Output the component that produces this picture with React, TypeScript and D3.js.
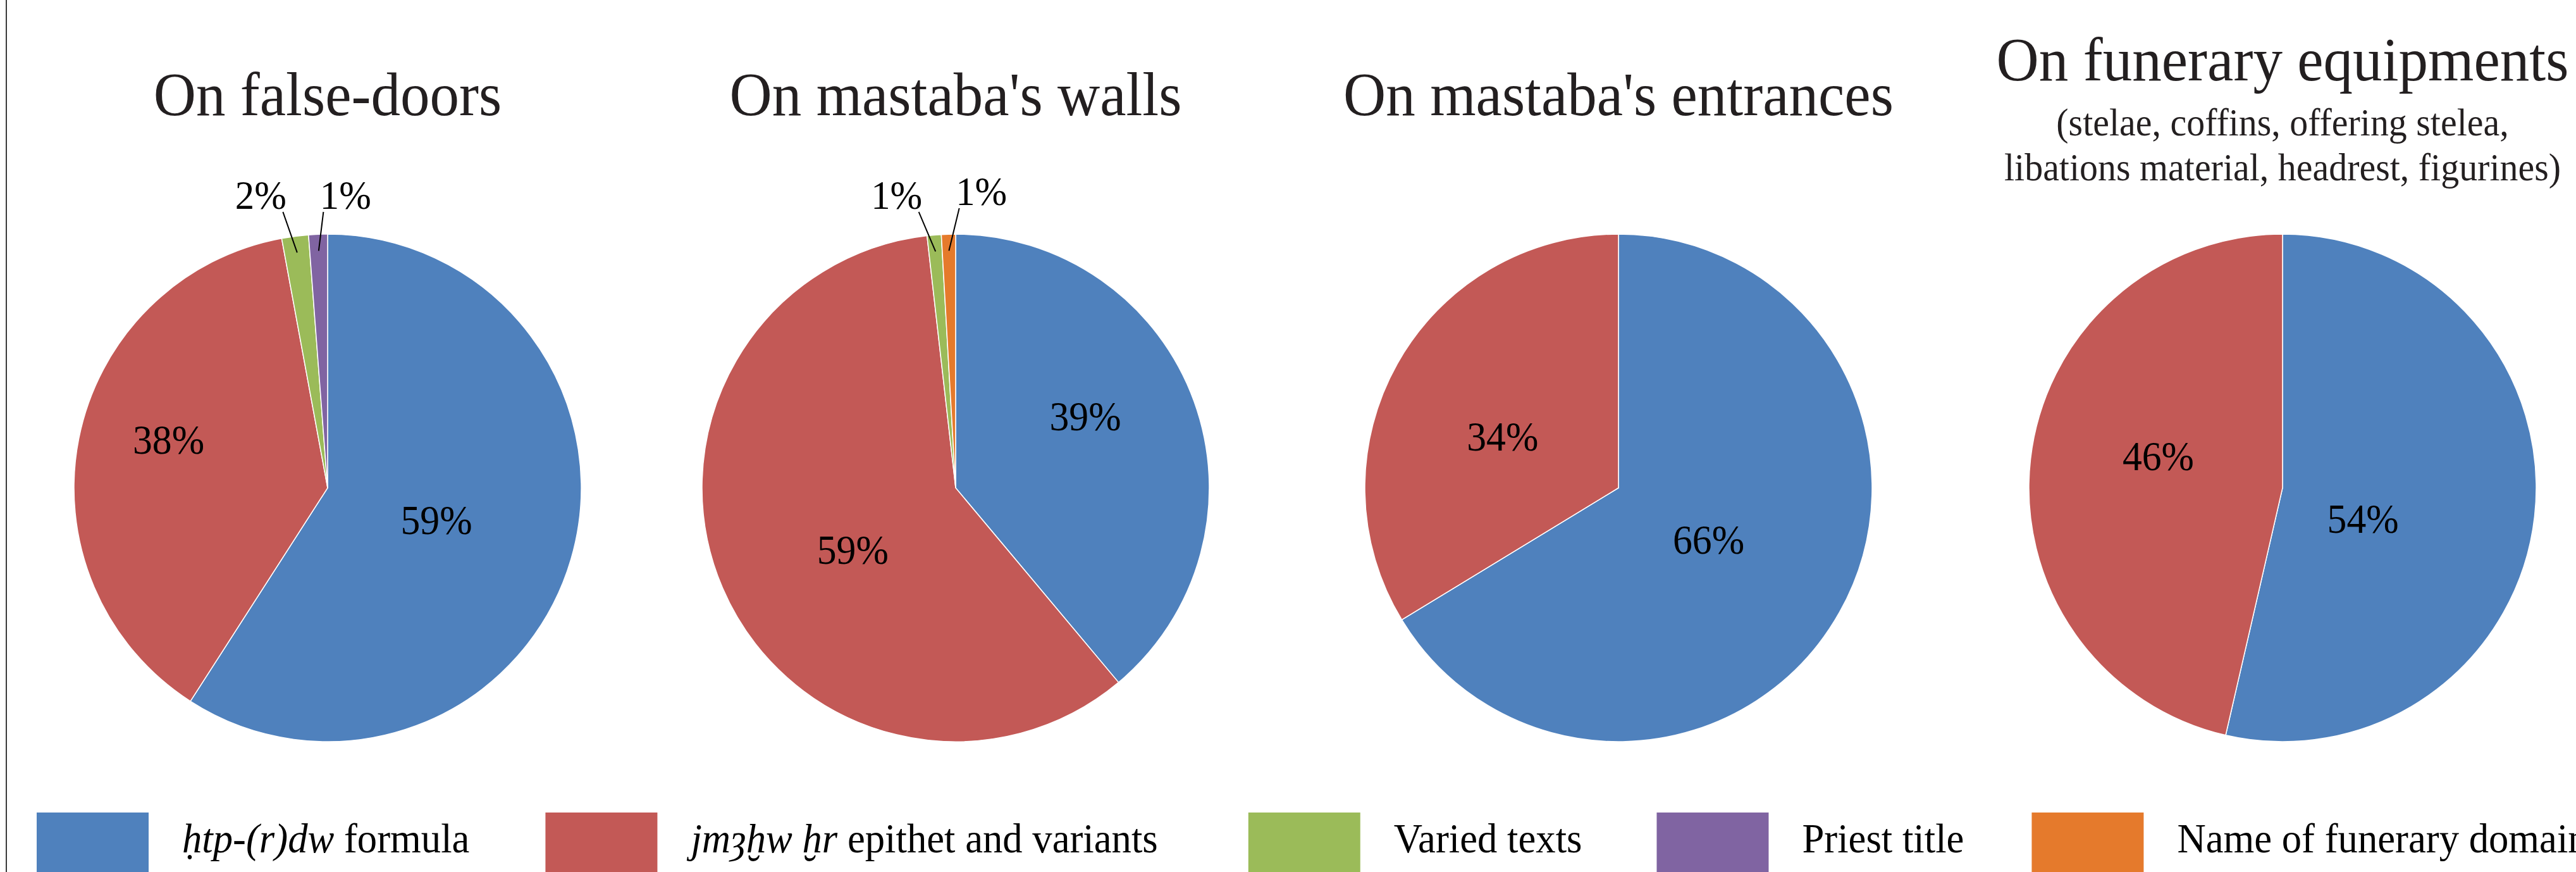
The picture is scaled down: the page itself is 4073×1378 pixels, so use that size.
import React, { useEffect, useRef } from 'react'
import { select, pie, arc } from 'd3'

const W = 4073
const H = 1378

// legend entries: italic transliteration part + roman part
const legendItalic = ['ḥtp-(r)dw', 'jmȝḫw ḫr', '', '', '']
const legendRoman = [' formula', ' epithet and variants', 'Varied texts', 'Priest title', 'Name of funerary domain']

const chartTitles = ['On false-doors', "On mastaba's walls", "On mastaba's entrances", 'On funerary equipments']
const chartSubtitles = [[], [], [], ['(stelae, coffins, offering stelea,', 'libations material, headrest, figurines)']]

// shares per series: htp-(r)dw, jm3hw hr, varied texts, priest title, funerary domain
const falseDoors = [59.1, 38.0, 1.7, 1.2, 0]
const mastabaWalls = [38.9, 59.3, 0.9, 0, 0.9]
const mastabaEntrances = [66.3, 33.7, 0, 0, 0]
const funeraryEquipments = [53.6, 46.4, 0, 0, 0]
const charts = [falseDoors, mastabaWalls, mastabaEntrances, funeraryEquipments]

const colors = ['#4F81BD', '#C35956', '#9BBB59', '#8064A2', '#E57A2C']

// layout
const pieCenters = [518, 1511, 2559, 3609]
const pieY = 771
const radius = 401
// "best fit" label spots for the big slices: [radius fraction, angle shift in deg]
const labelPlacement = [
  [[0.447, 0], [0.655, 5.6]],
  [[0.584, -8.9], [0.474, -7.9]],
  [[0.41, 0.6], [0.5, -5.4]],
  [[0.34, 14.7], [0.506, 7.9]],
]

const FONT = '"Liberation Serif", "Times New Roman", "DejaVu Serif", serif'
const SQUEEZE = 0.95

const addText = (g, x, y, txt, size, anchor = 'middle', fill = '#000') =>
  g.append('text')
    .attr('transform', `translate(${x},${y}) scale(${SQUEEZE},1)`)
    .attr('text-anchor', anchor)
    .attr('font-family', FONT)
    .attr('font-size', size)
    .attr('fill', fill)
    .text(txt)

export default function App() {
  const svgRef = useRef<SVGSVGElement | null>(null)

  useEffect(() => {
    if (!svgRef.current) return
    const svg = select(svgRef.current)
    svg.selectAll('*').remove()

    svg.append('line')
      .attr('x1', 10).attr('x2', 10).attr('y1', 0).attr('y2', H)
      .attr('stroke', '#3a3a3a').attr('stroke-width', 2)

    const pieGen = pie<number>().sort(null).value(d => d)
    const arcGen = arc<any>().innerRadius(0).outerRadius(radius)

    charts.forEach((values, ci) => {
      const cx = pieCenters[ci]
      const g = svg.append('g')
      const subs = chartSubtitles[ci]
      const titleBase = subs.length ? 127 : 182
      addText(g, cx, titleBase, chartTitles[ci], 98, 'middle', '#231F20')
      subs.forEach((s, i) => addText(g, cx, 214 + i * 71, s, 61, 'middle', '#231F20'))

      const total = values.reduce((a, b) => a + b, 0)
      const arcs = pieGen(values)
      const pg = g.append('g').attr('transform', `translate(${cx},${pieY})`)
      pg.selectAll('path')
        .data(arcs.filter(a => a.value > 0))
        .join('path')
        .attr('d', arcGen)
        .attr('fill', a => colors[a.index])
        .attr('stroke', '#fff')
        .attr('stroke-width', 1.5)

      // big slices: labels inside
      arcs.filter(a => a.value / total >= 0.03).forEach(a => {
        const [f, shift] = labelPlacement[ci][a.index]
        const mid = (a.startAngle + a.endAngle) / 2 + (shift * Math.PI) / 180
        const x = Math.sin(mid) * radius * f
        const y = -Math.cos(mid) * radius * f
        addText(pg, x, y + 22, `${Math.round((a.value / total) * 100)}%`, 65)
      })

      // small slices: labels above with leader lines
      const small = arcs.filter(a => a.value > 0 && a.value / total < 0.03).map(a => {
        const mid = (a.startAngle + a.endAngle) / 2
        return {
          a,
          ax: Math.sin(mid) * radius * 0.935,
          ay: -Math.cos(mid) * radius * 0.935,
          x: Math.sin(mid) * radius * 1.16,
          y: -radius * 1.1,
        }
      })
      if (small.length) {
        small.sort((p, q) => p.x - q.x)
        const mean = small.reduce((s, p) => s + p.x, 0) / small.length
        const sep = 134
        small.forEach((p, i) => { p.x = mean + (i - (small.length - 1) / 2) * sep })
        small.forEach((p, i) => {
          const yb = p.y - (i === small.length - 1 && small.length > 1 && ci === 1 ? 6 : 0)
          addText(pg, p.x, yb, `${Math.round((p.a.value / total) * 100)}%`, 64)
          const side = p.ax > p.x ? 1 : -1
          pg.append('line')
            .attr('x1', p.x + side * 35).attr('y1', yb + 5)
            .attr('x2', p.ax).attr('y2', p.ay)
            .attr('stroke', '#000').attr('stroke-width', 2)
        })
      }
    })

    // legend
    const lg = svg.append('g')
    const gaps = [120, 143, 118, 107, 0]
    let x = 58
    legendRoman.forEach((rom, i) => {
      lg.append('rect')
        .attr('x', x).attr('y', 1284).attr('width', 177).attr('height', 177)
        .attr('fill', colors[i])
      const t = lg.append('text')
        .attr('transform', `translate(${x + 177 + 53},1347) scale(${SQUEEZE},1)`)
        .attr('font-family', FONT)
        .attr('font-size', 66)
        .attr('fill', '#000')
        .style('white-space', 'pre')
      if (legendItalic[i]) t.append('tspan').attr('font-style', 'italic').text(legendItalic[i])
      t.append('tspan').text(rom)
      const w = (t.node() as SVGTextElement).getComputedTextLength() * SQUEEZE
      x = x + 177 + 53 + w + gaps[i]
    })
  }, [])

  return (
    <svg
      ref={svgRef}
      width={W}
      height={H}
      style={{ position: 'absolute', left: 0, top: 0, background: '#fff' }}
    />
  )
}
